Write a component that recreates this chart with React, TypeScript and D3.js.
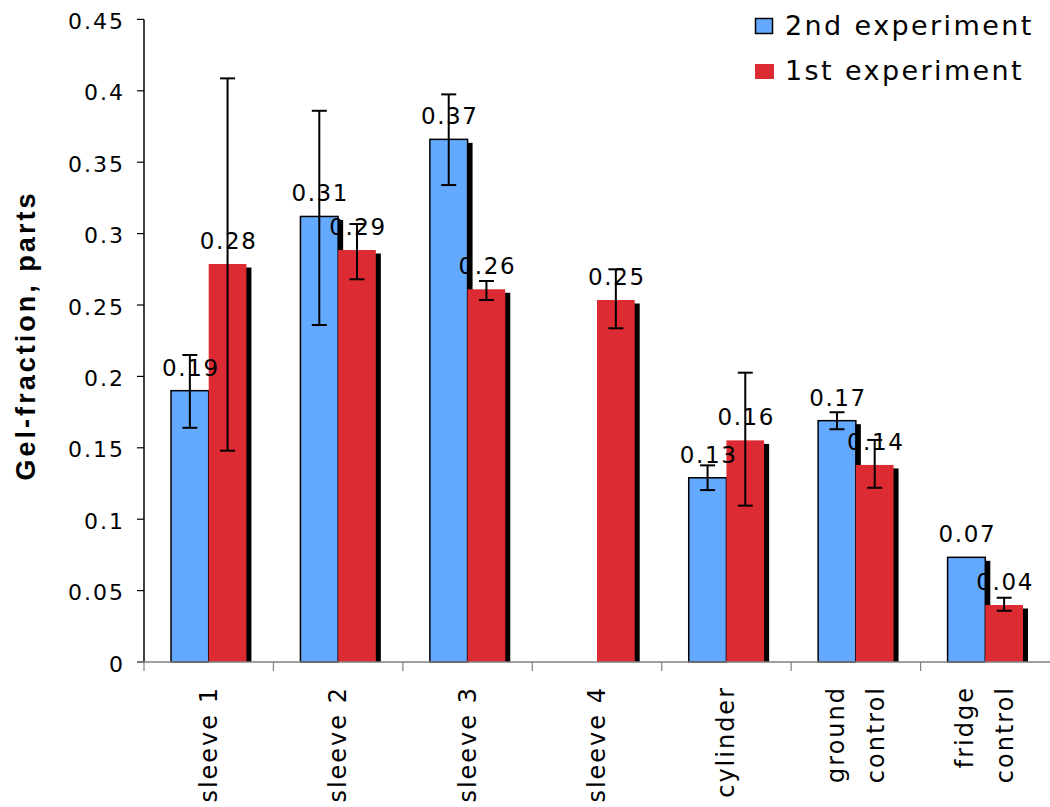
import React from "react";
import * as d3 from "d3";

const categories: string[][] = [
  ["sleeve 1"],
  ["sleeve 2"],
  ["sleeve 3"],
  ["sleeve 4"],
  ["cylinder"],
  ["ground", "control"],
  ["fridge", "control"],
];
const seriesNames = ["2nd experiment", "1st experiment"];
const secondValues: (number | null)[] = [0.19, 0.312, 0.366, null, 0.129, 0.169, 0.0733];
const secondErrLow: (number | null)[] = [0.164, 0.236, 0.334, null, 0.1204, 0.163, null];
const secondErrHigh: (number | null)[] = [0.215, 0.386, 0.3975, null, 0.1377, 0.1749, null];
const firstValues: (number | null)[] = [0.2787, 0.2885, 0.261, 0.2535, 0.1552, 0.138, 0.0399];
const firstErrLow: (number | null)[] = [0.148, 0.268, 0.2535, 0.2337, 0.1095, 0.122, 0.0359];
const firstErrHigh: (number | null)[] = [0.4087, 0.3067, 0.2668, 0.275, 0.2026, 0.1555, 0.045];
const yTicks = [0, 0.05, 0.1, 0.15, 0.2, 0.25, 0.3, 0.35, 0.4, 0.45];
const yTickLabels = ["0", "0.05", "0.1", "0.15", "0.2", "0.25", "0.3", "0.35", "0.4", "0.45"];

const W = 1050;
const H = 807;
const plotLeft = 144;
const plotRight = 1050;
const plotBottom = 662;
const plotTop = 19.4;
const BLUE = "#63a9ff";
const RED = "#dc2b32";

export default function App() {
  const x = d3
    .scaleBand<number>()
    .domain(categories.map((_, i) => i))
    .range([plotLeft, plotRight])
    .paddingInner(0)
    .paddingOuter(0);
  const y = d3.scaleLinear().domain([0, 0.45]).range([plotBottom, plotTop]);
  const step = x.step();
  const barW = 37.7;
  const inner = d3
    .scaleBand<number>()
    .domain([0, 1])
    .range([(step - 2 * barW) / 2, (step - 2 * barW) / 2 + 2 * barW])
    .padding(0);

  const series = [
    { vals: secondValues, lo: secondErrLow, hi: secondErrHigh, color: BLUE, stroke: "#000" },
    { vals: firstValues, lo: firstErrLow, hi: firstErrHigh, color: RED, stroke: "none" },
  ];

  const bars: { s: number; i: number; v: number; x0: number; lo: number | null; hi: number | null }[] = [];
  series.forEach((s, si) => {
    s.vals.forEach((v, i) => {
      if (v == null) return;
      bars.push({ s: si, i, v, x0: (x(i) as number) + (inner(si) as number), lo: s.lo[i], hi: s.hi[i] });
    });
  });

  const fontMain = "'DejaVu Sans', Verdana, sans-serif";
  const dx = 5;
  const dy = 3.5;

  return (
    <svg
      width={W}
      height={H}
      style={{ position: "absolute", left: 0, top: 0, background: "#fff" }}
      xmlns="http://www.w3.org/2000/svg"
    >
      <rect x={0} y={0} width={W} height={H} fill="#fff" />
      {/* shadows */}
      {bars.map((b, k) => (
        <rect
          key={"sh" + k}
          x={b.x0 + dx}
          y={y(b.v) + dy}
          width={barW}
          height={Math.max(0, plotBottom - (y(b.v) + dy))}
          fill="#000"
        />
      ))}
      {/* bars */}
      {bars.map((b, k) => (
        <rect
          key={"b" + k}
          x={b.x0}
          y={y(b.v)}
          width={barW}
          height={plotBottom - y(b.v)}
          fill={series[b.s].color}
          stroke={series[b.s].stroke}
          strokeWidth={series[b.s].stroke === "none" ? 0 : 1.5}
        />
      ))}
      {/* axes */}
      <line x1={plotLeft} x2={plotLeft} y1={plotTop} y2={plotBottom} stroke="#000" strokeWidth={1.5} />
      {yTicks.map((t, k) => (
        <g key={"yt" + k}>
          <line x1={plotLeft - 7} x2={plotLeft} y1={y(t)} y2={y(t)} stroke="#000" strokeWidth={1.2} />
          <text
            x={125}
            y={y(t) + 9.5}
            textAnchor="end"
            fontFamily={fontMain}
            fontSize={22}
            letterSpacing={2}
            fill="#000"
          >
            {yTickLabels[k]}
          </text>
        </g>
      ))}
      <line x1={plotLeft - 7} x2={plotRight} y1={plotBottom} y2={plotBottom} stroke="#808080" strokeWidth={1.5} />
      {categories.map((_, i) => (
        <line
          key={"xt" + i}
          x1={x(i) as number}
          x2={x(i) as number}
          y1={plotBottom}
          y2={plotBottom + 9}
          stroke="#808080"
          strokeWidth={1.2}
        />
      ))}
      {/* error bars */}
      {bars.map((b, k) => {
        if (b.lo == null || b.hi == null) return null;
        const cx = b.x0 + barW / 2;
        return (
          <g key={"e" + k} stroke="#000" strokeWidth={2}>
            <line x1={cx} x2={cx} y1={y(b.hi)} y2={y(b.lo)} />
            <line x1={cx - 7.5} x2={cx + 7.5} y1={y(b.hi)} y2={y(b.hi)} />
            <line x1={cx - 7.5} x2={cx + 7.5} y1={y(b.lo)} y2={y(b.lo)} />
          </g>
        );
      })}
      {/* data labels */}
      {bars.map((b, k) => (
        <text
          key={"l" + k}
          x={b.x0 + barW / 2 + 1}
          y={y(b.v) - 15}
          textAnchor="middle"
          fontFamily={fontMain}
          fontSize={23}
          letterSpacing={1.6}
          fill="#000"
        >
          {d3.format(".2f")(b.v)}
        </text>
      ))}
      {/* category labels */}
      {categories.map((lines, i) => {
        const cx = (x(i) as number) + step / 2;
        const n = lines.length;
        return lines.map((ln, j) => {
          const lx = cx + (j - (n - 1) / 2) * 40;
          return (
            <text
              key={"c" + i + "-" + j}
              transform={`translate(${lx},${686}) rotate(-90)`}
              textAnchor="end"
              dominantBaseline="central"
              fontFamily={fontMain}
              fontSize={24}
              letterSpacing={2}
              fill="#000"
            >
              {ln}
            </text>
          );
        });
      })}
      {/* y title */}
      <text
        transform={`translate(35,337) rotate(-90)`}
        textAnchor="middle"
        fontFamily="'Liberation Sans', Arial, sans-serif"
        fontWeight="bold"
        fontSize={27}
        textLength={287}
        lengthAdjust="spacing"
        fill="#000"
      >
        Gel-fraction, parts
      </text>
      {/* legend */}
      <rect x={755.5} y={18.5} width={17} height={15} fill={BLUE} stroke="#000" strokeWidth={1.5} />
      <text x={785} y={35} fontFamily={fontMain} fontSize={27} letterSpacing={2.4} fill="#000">
        {seriesNames[0]}
      </text>
      <rect x={755} y={64} width={19} height={15} fill={RED} />
      <text x={785} y={80} fontFamily={fontMain} fontSize={27} letterSpacing={2.4} fill="#000">
        {seriesNames[1]}
      </text>
    </svg>
  );
}
